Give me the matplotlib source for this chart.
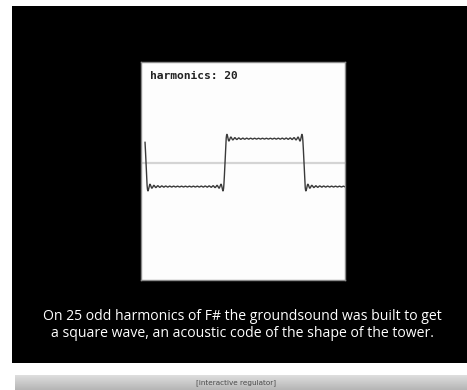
import numpy as np
import matplotlib
matplotlib.use("Agg")
import matplotlib.pyplot as plt
from matplotlib.patches import Rectangle

# square wave built from odd harmonics
n_harmonics = 20
t_start, t_end = -0.012, 2.6      # time in half-periods
t_view = (-0.063, 2.52)
level_view = (-4.9, 4.2)

caption = ["On 25 odd harmonics of F# the groundsound was built to get",
           "a square wave, an acoustic code of the shape of the tower."]
label = "[interactive regulator]"

t = np.linspace(t_start, t_end, 3000)
wave = np.zeros_like(t)
for k in range(1, n_harmonics + 1):
    m = 2 * k - 1
    wave += np.sin(m * np.pi * t) / m
wave *= -4 / np.pi

W, H = 467, 390
fig = plt.figure(figsize=(W / 100, H / 100), dpi=100)
fig.patch.set_facecolor("white")

# page in pixel coordinates
bg = fig.add_axes([0, 0, 1, 1])
bg.set_xlim(0, W)
bg.set_ylim(H, 0)
bg.axis("off")
bg.add_patch(Rectangle((12, 6), W - 12, 357, color="black", lw=0))

# grey slider strip with a soft vertical gradient
grad = np.linspace(0.87, 0.71, 50).reshape(-1, 1)
bg.imshow(grad, cmap="gray", vmin=0, vmax=1, extent=(15, W, H, 375), aspect="auto")
bg.text(236, 382.5, label, color="#4a4a4a", fontsize=5.2, family="DejaVu Sans",
        ha="center", va="center")

for i, line in enumerate(caption):
    bg.text(242, 317 + 16.5 * i, line, color="white", fontsize=10.1, family="Open Sans",
            ha="center", va="center")
bg.set_xlim(0, W)
bg.set_ylim(H, 0)

# the white graph panel
x0, x1, y0, y1 = 141, 345, 62, 280
ax = fig.add_axes([x0 / W, 1 - y1 / H, (x1 - x0) / W, (y1 - y0) / H])
ax.set_facecolor("#fdfdfd")
ax.set_xlim(*t_view)
ax.set_ylim(*level_view)
ax.set_xticks([])
ax.set_yticks([])
for s in ax.spines.values():
    s.set_color("#8a8a8a")
    s.set_linewidth(1.0)

ax.axhline(0, color="#d4d4d4", lw=1.6, zorder=1)
ax.plot(t, wave, color="#3a3a3a", lw=1.0, zorder=2)
ax.text(0.045, 0.935, f"harmonics: {n_harmonics}", transform=ax.transAxes,
        family="DejaVu Sans Mono", fontweight="bold", fontsize=8.1,
        color="#222222", ha="left", va="center")

fig.savefig("out.png", dpi=100, facecolor=fig.get_facecolor())
